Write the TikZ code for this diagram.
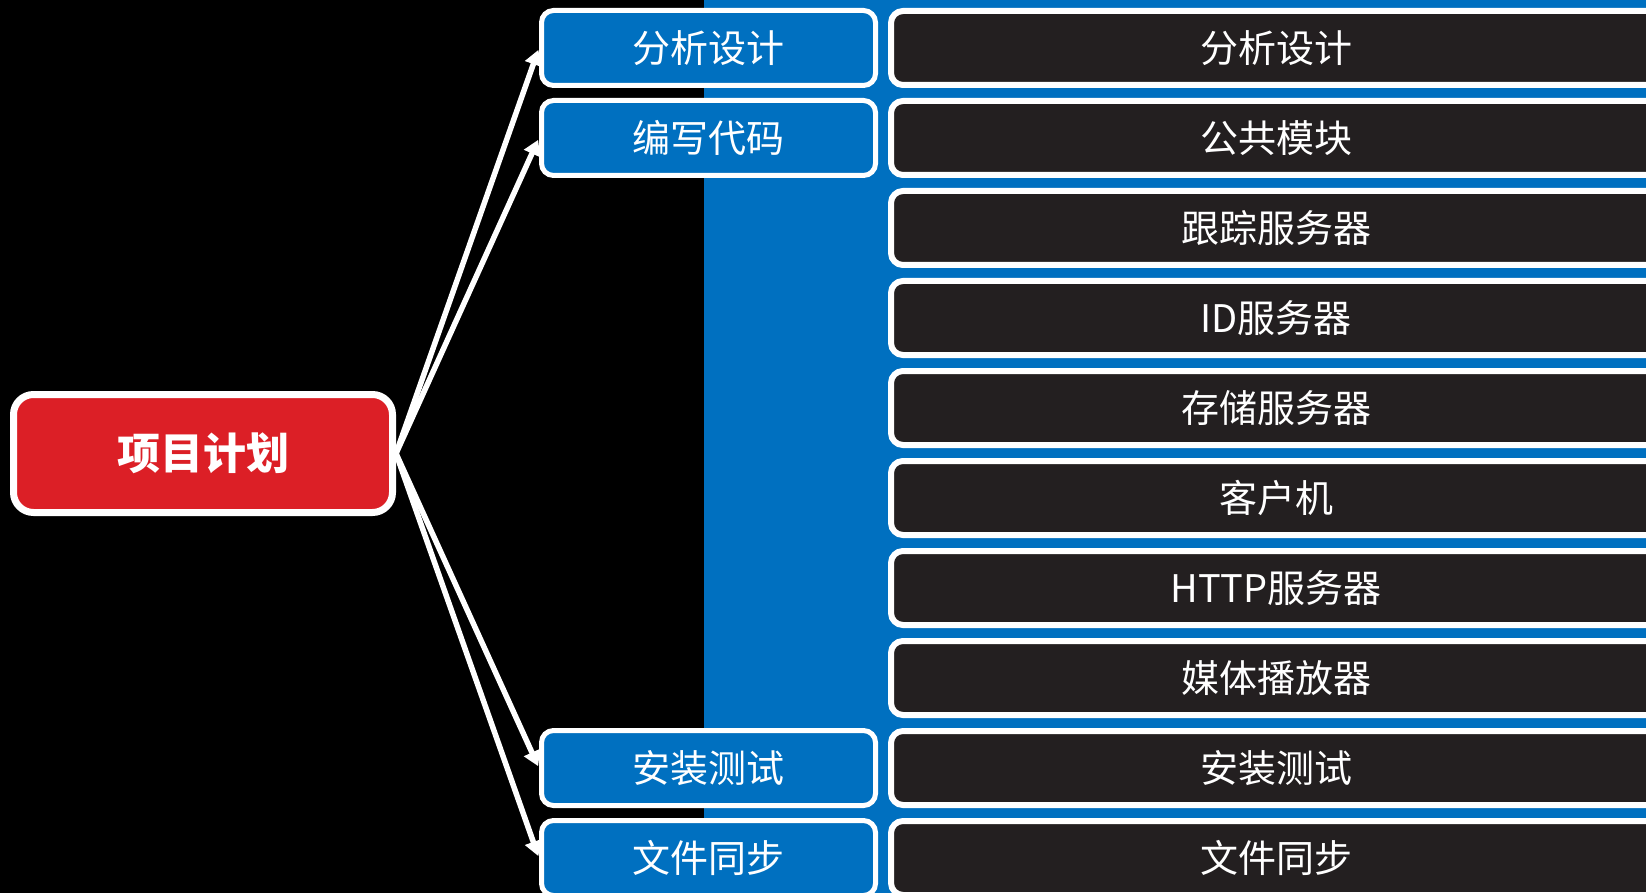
\documentclass[tikz,border=0pt]{standalone}
\usepackage{fontspec}
\newfontfamily\cjk{Noto Sans CJK SC}
\usetikzlibrary{arrows.meta}
\definecolor{bgblue}{HTML}{0070C0}
\definecolor{redf}{HTML}{DC1F26}
\definecolor{darkf}{HTML}{231F20}
\begin{document}
\begin{tikzpicture}[x=1pt,y=-1pt,
  bluebox/.style={draw=white, line width=5pt, fill=bgblue, rounded corners=12pt,
    minimum width=334pt, minimum height=75pt, inner sep=0pt,
    font=\cjk\fontsize{38}{40}\selectfont, text=white},
  darkbox/.style={draw=white, line width=6pt, fill=darkf, rounded corners=12pt,
    minimum width=770pt, minimum height=74pt, inner sep=0pt,
    font=\cjk\fontsize{38}{40}\selectfont, text=white},
  redbox/.style={draw=white, line width=7pt, fill=redf, rounded corners=20pt,
    minimum width=379pt, minimum height=118pt, inner sep=0pt,
    font=\cjk\bfseries\fontsize{43}{46}\selectfont, text=white},
  arr/.style={draw=white, line width=5.5pt, -{Triangle[width=17pt,length=15pt]}, shorten >=2pt}
]
\useasboundingbox (0,0) rectangle (1646,893);
\clip (0,0) rectangle (1646,893);
\fill[black] (0,0) rectangle (1646,893);
\fill[bgblue] (704,0) rectangle (1646,893);

% right column
\node[darkbox] (d1) at (1276,48) {分析设计};
\node[darkbox] (d2) at (1276,138) {公共模块};
\node[darkbox] (d3) at (1276,228) {跟踪服务器};
\node[darkbox] (d4) at (1276,318) {ID服务器};
\node[darkbox] (d5) at (1276,408) {存储服务器};
\node[darkbox] (d6) at (1276,498) {客户机};
\node[darkbox] (d7) at (1276,588) {HTTP服务器};
\node[darkbox] (d8) at (1276,678) {媒体播放器};
\node[darkbox] (d9) at (1276,768) {安装测试};
\node[darkbox] (d10) at (1276,858) {文件同步};

% middle column
\node[bluebox] (b1) at (708.5,48) {分析设计};
\node[bluebox] (b2) at (708.5,138) {编写代码};
\node[bluebox] (b3) at (708.5,768) {安装测试};
\node[bluebox] (b4) at (708.5,858) {文件同步};

% root
\node[redbox] (r) at (203,453.5) {项目计划};

\draw[arr] (r.east) -- (b1.west);
\draw[arr] (r.east) -- (b2.west);
\draw[arr] (r.east) -- (b3.west);
\draw[arr] (r.east) -- (b4.west);
\end{tikzpicture}
\end{document}
